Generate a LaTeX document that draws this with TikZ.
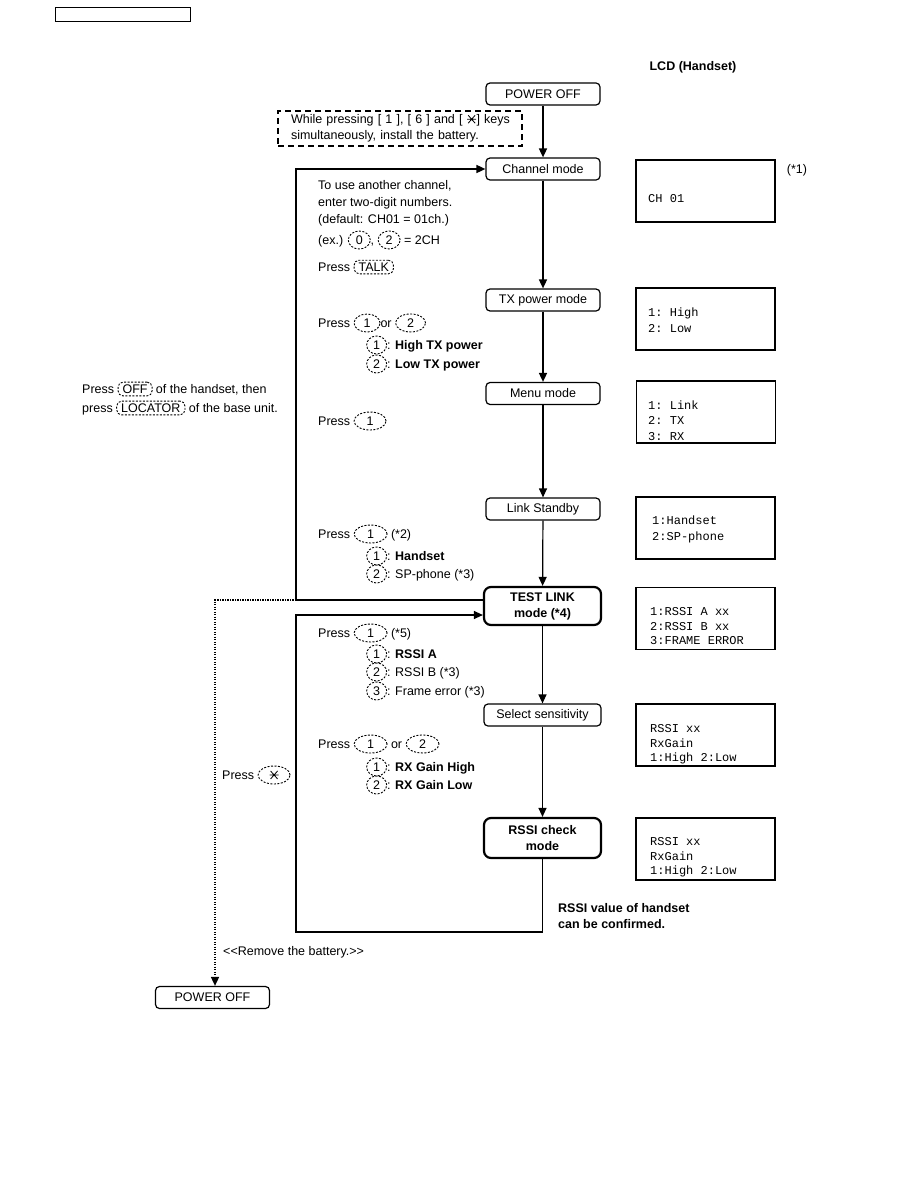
\documentclass[tikz,border=0pt]{standalone}
\usepackage{fontspec}
\setmainfont{Liberation Sans}
\setmonofont{Liberation Mono}
\usetikzlibrary{shapes.geometric,arrows.meta}
\tikzset{
 every node/.style={font=\fontsize{12.5}{15}\selectfont},
 stbox/.style={draw, line width=1.2pt, rounded corners=4pt, minimum width=114pt, minimum height=22pt, inner sep=0pt},
 bigbox/.style={draw, line width=2.2pt, rounded corners=7pt, minimum width=117pt, minimum height=38pt, inner sep=0pt, align=center, font=\bfseries\fontsize{12.5}{16}\selectfont},
 lcd/.style={draw, line width=1.4pt, minimum width=139pt, minimum height=62pt, inner sep=0pt},
 lcdt/.style={anchor=north west, font=\ttfamily\fontsize{12}{16}\selectfont, align=left, inner sep=0pt},
 txt/.style={anchor=west, inner sep=0pt, align=left},
 flow/.style={line width=1.6pt, -{Triangle[length=9pt,width=8pt]}},
 thinflow/.style={line width=1.2pt, -{Triangle[length=9pt,width=8pt]}},
 dots/.style={line width=1.6pt, dash pattern=on 1.2pt off 1.3pt, -{Triangle[length=9pt,width=8pt]}},
 keyd/.style={draw, ellipse, dash pattern=on 2pt off 1.5pt, line width=0.9pt, inner xsep=1pt, inner ysep=0pt, minimum width=#1, minimum height=18pt, anchor=center},
 keyd/.default=24pt,
 keyr/.style={draw, rounded corners=5pt, dash pattern=on 2pt off 1.5pt, line width=0.9pt, inner xsep=4.5pt, inner ysep=2.5pt, anchor=center},
}
\newcommand\kk[2][24pt]{\tikz[baseline=(x.base)]\node[keyd=#1](x){#2};}
\newcommand\kr[1]{\tikz[baseline=(x.base)]\node[keyr](x){#1};}
\newcommand\starsym{\tikz[baseline=-4.5pt]{\draw[line width=0.8pt] (-3.5pt,4pt)--(3.5pt,-4pt) (-3.5pt,-4pt)--(3.5pt,4pt) (-4.5pt,0pt)--(4.5pt,0pt);}}
\begin{document}
\begin{tikzpicture}[x=1pt,y=-1pt]
\useasboundingbox (0,0) rectangle (918,1188);
% header
\node[draw, line width=1pt, minimum width=135pt, minimum height=14pt, inner sep=0pt] (hdr) at (122.5,15) {};
\node[font=\bfseries\fontsize{12.5}{15}\selectfont] (lcdh) at (693,67) {LCD (Handset)};
% main boxes
\node[stbox] (poff) at (543,94) {POWER OFF};
\node[draw, line width=1.2pt, dash pattern=on 6pt off 4pt, minimum width=244pt, minimum height=35pt, inner xsep=13pt, inner ysep=0pt, text width=218pt, align=left, font=\fontsize{12.5}{16}\selectfont] (inst) at (400,128.5) {\mbox{While pressing [ 1 ], [ 6 ] and [ \starsym] keys}\\\mbox{simultaneously, install the battery.}};
\node[stbox] (chan) at (543,169) {Channel mode};
\node[stbox] (txp) at (543,300) {TX power mode};
\node[stbox] (menu) at (543,393.5) {Menu mode};
\node[stbox] (link) at (543,509) {Link Standby};
\node[bigbox] (test) at (542.5,606) {TEST LINK\\mode (*4)};
\node[stbox, minimum width=117pt] (sel) at (542.5,715) {Select sensitivity};
\node[bigbox, minimum height=40pt] (rssi) at (542.5,838) {RSSI check\\mode};
\node[stbox] (poff2) at (212.5,997.5) {POWER OFF};
% LCD boxes
\node[lcd] (lcd1) at (705.5,191) {};
\node[lcdt, anchor=west] (lcd1t) at (648,199) {CH 01};
\node (n1) at (797,170) {(*1)};
\node[lcd] (lcd2) at (705.5,319) {};
\node[lcdt] (lcd2t) at (648,307.5) {1: High\\2: Low};
\node[lcd] (lcd3) at (706,412) {};
\node[lcdt, font=\ttfamily\fontsize{12}{15.5}\selectfont] (lcd3t) at (648,400.5) {1: Link\\2: TX\\3: RX};
\node[lcd] (lcd4) at (705.5,528) {};
\node[lcdt, font=\ttfamily\fontsize{12}{16}\selectfont] (lcd4t) at (652,516) {1:Handset\\2:SP-phone};
\node[lcd] (lcd5) at (705.5,618.5) {};
\node[lcdt, font=\ttfamily\fontsize{12}{14.5}\selectfont] (lcd5t) at (650,607.5) {1:RSSI A xx\\2:RSSI B xx\\3:FRAME ERROR};
\node[lcd] (lcd6) at (705.5,735) {};
\node[lcdt, font=\ttfamily\fontsize{12}{14.5}\selectfont] (lcd6t) at (650,724.5) {RSSI xx\\RxGain\\1:High 2:Low};
\node[lcd] (lcd7) at (705.5,849) {};
\node[lcdt, font=\ttfamily\fontsize{12}{14.5}\selectfont] (lcd7t) at (650,837.5) {RSSI xx\\RxGain\\1:High 2:Low};
% instruction texts
\node[txt, anchor=north west, font=\fontsize{12.5}{17}\selectfont] (t1) at (318,180) {To use another channel,\\enter two-digit numbers.\\(default: CH01 = 01ch.)};
\node[txt] (t2) at (318,240) {(ex.) \kk[22pt]{0}, \kk[22pt]{2} = 2CH};
\node[txt] (t3) at (318,267) {Press \kr{TALK}};
\node[txt] (t4) at (318,323) {Press \kk[26pt]{1}or \kk[30pt]{2}};
\node[txt] (t5) at (366,345) {\kk[20pt]{1}: \textbf{High TX power}};
\node[txt] (t6) at (366,364) {\kk[20pt]{2}: \textbf{Low TX power}};
\node[txt] (t7) at (318,421) {Press \kk[32pt]{1}};
\node[txt] (t8) at (82,389) {Press \kr{OFF} of the handset, then};
\node[txt] (t9) at (82,408) {press \kr{LOCATOR} of the base unit.};
\node[txt] (t10) at (318,534) {Press \kk[33pt]{1} (*2)};
\node[txt] (t11) at (366,556) {\kk[20pt]{1}: \textbf{Handset}};
\node[txt] (t12) at (366,574) {\kk[20pt]{2}: SP-phone (*3)};
\node[txt] (t13) at (318,633) {Press \kk[33pt]{1} (*5)};
\node[txt] (t14) at (366,654) {\kk[20pt]{1}: \textbf{RSSI A}};
\node[txt] (t15) at (366,672) {\kk[20pt]{2}: RSSI B (*3)};
\node[txt] (t16) at (366,691) {\kk[20pt]{3}: Frame error (*3)};
\node[txt] (t17) at (318,744) {Press \kk[33pt]{1} or \kk[33pt]{2}};
\node[txt] (t18) at (366,767) {\kk[20pt]{1}: \textbf{RX Gain High}};
\node[txt] (t19) at (366,785) {\kk[20pt]{2}: \textbf{RX Gain Low}};
\node[txt] (t20) at (222,775) {Press \kk[32pt]{\starsym}};
\node[txt, anchor=north west, font=\bfseries\fontsize{12.5}{16}\selectfont] (t21) at (558,903) {RSSI value of handset\\can be confirmed.};
\node[txt] (t22) at (223,952) {<{}<Remove the battery.>{}>};
% connectors
\draw[flow] (poff) -- (chan);
\draw[flow] (chan) -- (txp);
\draw[flow] (txp) -- (menu);
\draw[thinflow] (menu) -- (link);
\draw[thinflow] (link) -- (test);
\draw[thinflow] (test) -- (sel);
\draw[thinflow] (sel) -- (rssi);
\coordinate (l1) at (296,600);
\draw[flow] (test.west |- l1) -- (l1) |- (chan.west);
\coordinate (d1) at (215,600);
\draw[dots] (l1) -- (d1) -- (d1 |- poff2.north);
\coordinate (l2) at (296,932);
\coordinate (l2t) at (296,615);
\draw[thinflow] (rssi.south) |- (l2) -- (l2t) -- (test.west |- l2t);
\end{tikzpicture}
\end{document}
